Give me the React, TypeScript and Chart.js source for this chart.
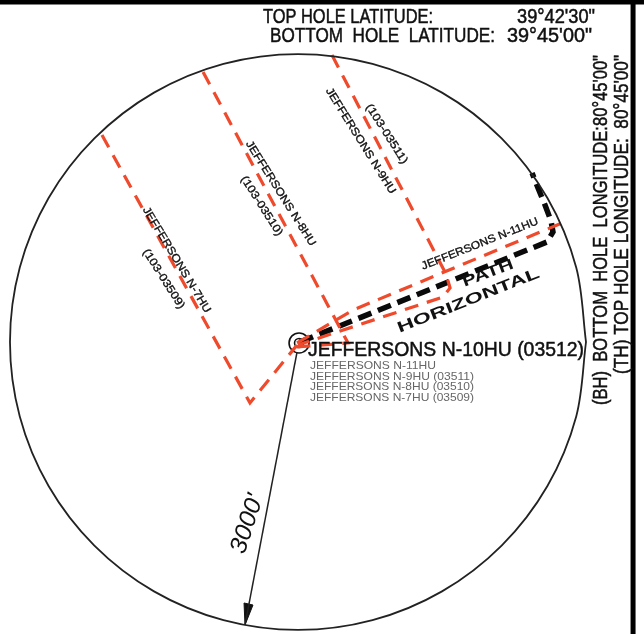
import React, { useEffect, useRef } from "react";
import { Chart, registerables } from "chart.js";

Chart.register(...registerables);

// All marks are in feet from the N-10HU wellhead (x = east, y = north).
const boundary3000ft = [
  [2979, 0], [2877, 776], [2577, 1500], [2100, 2121], [1479, 2598], [755, 2898], [-21, 3000],
  [-797, 2898], [-1521, 2598], [-2142, 2121], [-2619, 1500], [-2919, 776], [-3021, 0],
  [-2919, -776], [-2619, -1500], [-2142, -2121], [-1521, -2598], [-797, -2898], [-21, -3000],
  [755, -2898], [1479, -2598], [2100, -2121], [2577, -1500], [2877, -776], [2979, 0],
];
const lateralN7 = [[-2063, 2156], [-521, -635], [-31, -31]];
const lateralN8 = [[-1010, 2813], [500, -10], [-52, -52]];
const lateralN9 = [[333, 2990], [1521, 708], [1563, 563], [1490, 469], [-21, -31]];
const lateralN11 = [[-31, -10], [552, 333], [2729, 1240]];
const lateralN10 = [[0, 0], [2573, 1042], [2635, 1146], [2615, 1260], [2552, 1427], [2479, 1604], [2417, 1760]];
const radiusLine = [[-31, -104], [-573, -2948]];
const radiusArrow = [[-573, -2948], [-583, -2719], [-490, -2740], [-573, -2948]];
const wellhead = [[-10, -10]];
const frameTop = [[-3125, 3542], [3583, 3542]];
const frameRight = [[3469, 3563], [3469, -3042]];

const headerLines = ["TOP HOLE LATITUDE:", "39°42'30\"", "BOTTOM  HOLE  LATITUDE:", "39°45'00\""];
const sideLines = ["(BH)  BOTTOM  HOLE  LONGITUDE:80°45'00\"", "(TH) TOP HOLE LONGITUDE:  80°45'00\""];
const wellLabels = ["JEFFERSONS N-7HU", "(103-03509)", "JEFFERSONS N-8HU", "(103-03510)", "JEFFERSONS N-9HU", "(103-03511)", "JEFFERSONS N-11HU"];
const mainLabel = "JEFFERSONS N-10HU (03512)";
const listLabels = ["JEFFERSONS N-11HU", "JEFFERSONS N-9HU (03511)", "JEFFERSONS N-8HU (03510)", "JEFFERSONS N-7HU (03509)"];
const pathLabels = ["PATH", "HORIZONTAL"];
const radiusLabel = "3000'";

const RED = "#ef4a2c";
const SANS = '"Liberation Sans", Arial, sans-serif';
const pts = (a: number[][]) => a.map(([x, y]) => ({ x, y }));

function span(ctx: CanvasRenderingContext2D, text: string, x1: number, y1: number, x2: number, y2: number, font: string, color = "#111", heavy = 0) {
  ctx.save();
  ctx.font = font;
  ctx.fillStyle = color;
  ctx.strokeStyle = color;
  ctx.textAlign = "left";
  ctx.textBaseline = "middle";
  const len = Math.hypot(x2 - x1, y2 - y1);
  ctx.translate(x1, y1);
  ctx.rotate(Math.atan2(y2 - y1, x2 - x1));
  ctx.scale(len / ctx.measureText(text).width, 1);
  ctx.fillText(text, 0, 0);
  if (heavy > 0) {
    ctx.lineWidth = heavy;
    ctx.strokeText(text, 0, 0);
  }
  ctx.restore();
}

const textPlugin = {
  id: "mapText",
  afterDatasetsDraw(chart: Chart) {
    const c = chart.ctx;
    const f = (s: number, w = "normal", st = "normal") => `${st} ${w} ${s}px ${SANS}`;
    span(c, headerLines[0], 263, 17, 433, 17, f(20), "#111", 0.5);
    span(c, headerLines[1], 517, 17, 595, 17, f(20), "#111", 0.5);
    span(c, headerLines[2], 270, 36, 495, 36, f(20), "#111", 0.5);
    span(c, headerLines[3], 507, 36, 592, 36, f(20), "#111", 0.5);
    span(c, sideLines[0], 601, 405, 601, 55, f(20), "#111", 0.5);
    span(c, sideLines[1], 622, 374, 622, 55, f(20), "#111", 0.5);
    span(c, wellLabels[0], 145, 208, 208, 312, f(11), "#111", 0.35);
    span(c, wellLabels[1], 145, 250, 182, 308, f(11), "#111", 0.35);
    span(c, wellLabels[2], 248, 142, 313, 245, f(11), "#111", 0.35);
    span(c, wellLabels[3], 243, 177, 280, 235, f(11), "#111", 0.35);
    span(c, wellLabels[4], 328, 89, 393, 193, f(11), "#111", 0.35);
    span(c, wellLabels[5], 368, 105, 405, 163, f(11), "#111", 0.35);
    span(c, wellLabels[6], 422, 267, 538, 221, f(11), "#111", 0.35);
    span(c, mainLabel, 308, 350, 584, 350, f(21), "#111", 0.5);
    listLabels.forEach((t, i) => {
      const w = i === 0 ? 126 : 164;
      span(c, t, 310, 366 + i * 10.7, 310 + w, 366 + i * 10.7, f(11), "#666");
    });
    span(c, pathLabels[0], 463, 283, 513, 264, f(15, "bold"));
    span(c, pathLabels[1], 398, 329, 539, 273, f(15, "bold"));
    span(c, radiusLabel, 238, 553, 257, 495, f(24, "normal", "italic"));
  },
};

export default function App() {
  const ref = useRef<HTMLCanvasElement>(null);
  useEffect(() => {
    document.body.style.margin = "0";
    const red = { borderColor: RED, borderWidth: 3.2, borderDash: [14, 9], pointRadius: 0 };
    const chart = new Chart(ref.current!, {
      type: "scatter",
      data: {
        datasets: [
          { label: "3000 ft radius", data: pts(boundary3000ft), showLine: true, borderColor: "#222", borderWidth: 1.8, tension: 0.337, pointRadius: 0 },
          { label: "N-7HU", data: pts(lateralN7), showLine: true, ...red },
          { label: "N-8HU", data: pts(lateralN8), showLine: true, ...red },
          { label: "N-9HU", data: pts(lateralN9), showLine: true, ...red },
          { label: "N-11HU", data: pts(lateralN11), showLine: true, ...red },
          { label: "N-10HU", data: pts(lateralN10), showLine: true, borderColor: "#0a0a0a", borderWidth: 5.5, borderDash: [14, 7], pointRadius: 0 },
          { label: "Radius", data: pts(radiusLine), showLine: true, borderColor: "#222", borderWidth: 1.5, pointRadius: 0 },
          { label: "Arrow", data: pts(radiusArrow), showLine: true, borderColor: "#111", borderWidth: 1, backgroundColor: "#111", fill: "shape", pointRadius: 0 },
          { label: "Wellhead outer", data: pts(wellhead), pointRadius: 10, pointBorderWidth: 1.6, pointBorderColor: "#111", pointBackgroundColor: "rgba(0,0,0,0)" },
          { label: "Wellhead inner", data: pts(wellhead), pointRadius: 4.5, pointBorderWidth: 1.6, pointBorderColor: "#111", pointBackgroundColor: "rgba(0,0,0,0)" },
          { label: "Frame top", data: pts(frameTop), showLine: true, borderColor: "#000", borderWidth: 5, pointRadius: 0 },
          { label: "Frame right", data: pts(frameRight), showLine: true, borderColor: "#000", borderWidth: 5, pointRadius: 0 },
        ],
      },
      options: {
        responsive: false,
        animation: false,
        layout: { padding: 0, autoPadding: false },
        plugins: { legend: { display: false }, tooltip: { enabled: false } },
        scales: {
          x: { type: "linear", display: false, min: -3125, max: 3583 },
          y: { type: "linear", display: false, min: -3042, max: 3563 },
        },
      },
      plugins: [textPlugin],
    } as any);
    return () => chart.destroy();
  }, []);
  return (
    <canvas
      ref={ref}
      width={644}
      height={634}
      style={{ display: "block", width: 644, height: 634, filter: "blur(0.5px)", background: "#fff" }}
    />
  );
}
